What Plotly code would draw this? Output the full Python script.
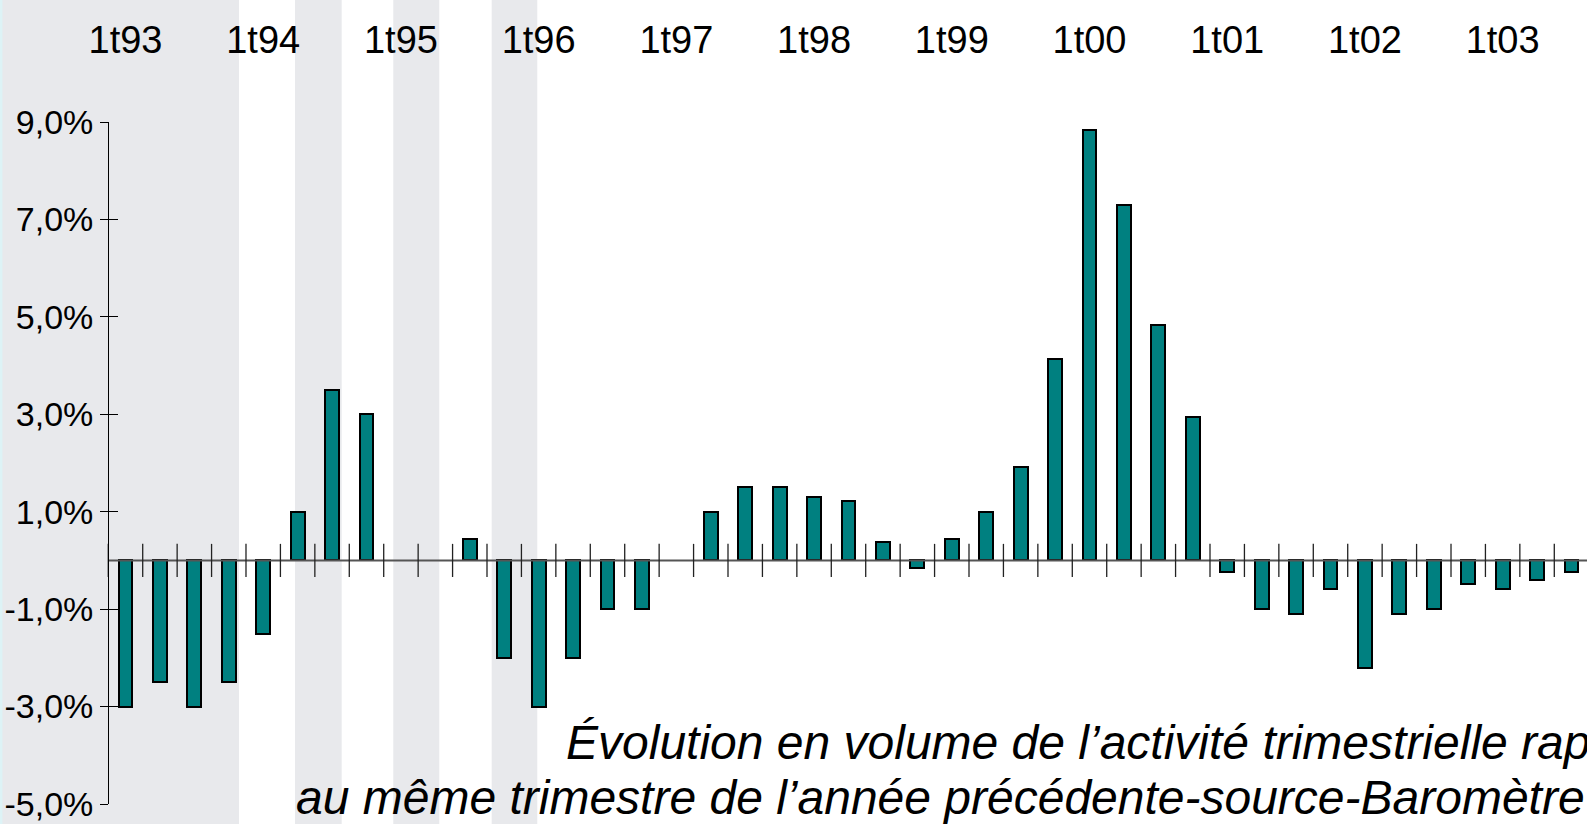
import plotly.graph_objects as go

# ---------------- data ----------------
quarters = [
    "1t93", "2t93", "3t93", "4t93",
    "1t94", "2t94", "3t94", "4t94",
    "1t95", "2t95", "3t95", "4t95",
    "1t96", "2t96", "3t96", "4t96",
    "1t97", "2t97", "3t97", "4t97",
    "1t98", "2t98", "3t98", "4t98",
    "1t99", "2t99", "3t99", "4t99",
    "1t00", "2t00", "3t00", "4t00",
    "1t01", "2t01", "3t01", "4t01",
    "1t02", "2t02", "3t02", "4t02",
    "1t03", "2t03", "3t03",
]
growth = [
    -3.0, -2.5, -3.0, -2.5,
    -1.5, 1.0, 3.5, 3.0,
    0.0, 0.0, 0.45, -2.0,
    -3.0, -2.0, -1.0, -1.0,
    0.0, 1.0, 1.5, 1.5,
    1.3, 1.22, 0.37, -0.15,
    0.45, 1.0, 1.92, 4.13,
    8.84, 7.3, 4.83, 2.94,
    -0.24, -1.0, -1.09, -0.58,
    -2.2, -1.09, -1.0, -0.49,
    -0.58, -0.41, -0.24,
]
year_labels = ["1t93", "1t94", "1t95", "1t96", "1t97", "1t98",
               "1t99", "1t00", "1t01", "1t02", "1t03"]
y_ticks = [-5, -3, -1, 1, 3, 5, 7, 9]
y_tick_text = ["-5,0%", "-3,0%", "-1,0%", "1,0%", "3,0%", "5,0%", "7,0%", "9,0%"]
# light grey background bands, in quarter-index units
bands = [(-3.645, 3.296), (4.923, 6.279), (7.778, 9.114), (10.636, 11.96)]
title_line1 = "Évolution en volume de l’activité trimestrielle rapportée"
title_line2 = "au même trimestre de l’année précédente-source-Baromètre"

# ---------------- styling ----------------
X_RANGE = [-3.645, 42.45]
Y_RANGE = [-5, 9]
FONT = "Liberation Sans, Arial, sans-serif"
TEAL = "#008080"

x_pos = list(range(len(quarters)))
year_pos = [quarters.index(q) for q in year_labels]

fig = go.Figure()

# bars (zero-valued quarters draw nothing)
fig.add_trace(go.Bar(
    x=x_pos, y=growth, width=0.4,
    marker=dict(color=TEAL,
                line=dict(color="black", width=[0 if v == 0 else 2 for v in growth])),
    hovertext=quarters, hoverinfo="text+y", showlegend=False,
))

# zero line
fig.add_trace(go.Scatter(
    x=[-0.5, len(quarters) - 0.5], y=[0, 0], mode="lines",
    line=dict(color="#555555", width=2), hoverinfo="skip", showlegend=False,
))

# crossing tick marks at quarter boundaries along the zero line
tx, ty = [], []
h = 0.34
for i in range(len(quarters)):
    b = i - 0.5
    tx += [b, b, None]
    ty += [-h, h, None]
fig.add_trace(go.Scatter(
    x=tx, y=ty, mode="lines", yaxis="y2",
    line=dict(color="#222222", width=1.3), hoverinfo="skip", showlegend=False,
))

shapes = []
for a, b in bands:
    shapes.append(dict(type="rect", xref="x", yref="paper", x0=a, x1=b,
                       y0=-0.1, y1=1.3, fillcolor="#E8E9EC", line=dict(width=0),
                       layer="below"))
# thin pale-cyan strip at the far left edge
shapes.append(dict(type="rect", xref="x", yref="paper", x0=X_RANGE[0], x1=X_RANGE[0] + 0.07,
                   y0=-0.1, y1=1.3, fillcolor="#DDF3F6", line=dict(width=0), layer="below"))

y_pos = 108.3 / 1587

fig.update_layout(
    width=1587, height=824,
    margin=dict(l=0, r=0, t=122, b=20, pad=0, autoexpand=False),
    paper_bgcolor="white", plot_bgcolor="rgba(0,0,0,0)",
    shapes=shapes,
    bargap=0,
    xaxis=dict(
        domain=[0, 1], range=X_RANGE, side="top", anchor="y",
        tickmode="array", tickvals=year_pos, ticktext=year_labels,
        ticks="", showline=False, showgrid=False, zeroline=False,
        tickfont=dict(family=FONT, size=38, color="black"),
        ticklabelstandoff=60, automargin=False,
    ),
    yaxis=dict(
        range=Y_RANGE, anchor="free", position=y_pos,
        tickmode="array", tickvals=y_ticks, ticktext=y_tick_text,
        ticks="outside", ticklen=8, tickwidth=1.3, tickcolor="black",
        showline=True, linecolor="black", linewidth=1.3,
        showgrid=False, zeroline=False,
        tickfont=dict(family=FONT, size=34, color="black"),
        ticklabelstandoff=0, automargin=False,
    ),
    yaxis2=dict(
        range=Y_RANGE, anchor="free", position=y_pos, overlaying="y", side="left",
        tickmode="array", tickvals=y_ticks,
        ticks="inside", ticklen=9, tickwidth=1.3, tickcolor="black",
        showticklabels=False, showline=False, showgrid=False, zeroline=False,
        automargin=False,
    ),
    annotations=[
        dict(text=title_line1, xref="paper", yref="paper", x=564 / 1587, y=0.09,
             xanchor="left", yanchor="middle", showarrow=False,
             font=dict(family=FONT, size=48, color="black", style="italic")),
        dict(text=title_line2, xref="paper", yref="paper", x=294 / 1587, y=0.01,
             xanchor="left", yanchor="middle", showarrow=False,
             font=dict(family=FONT, size=48, color="black", style="italic")),
    ],
)

fig.write_html("out.html", config={"displayModeBar": False},
               post_script="document.body.style.margin='0px';")
